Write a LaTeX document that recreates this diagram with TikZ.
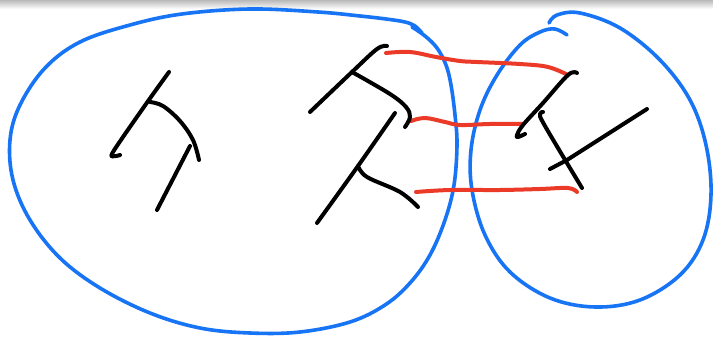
\documentclass[tikz,border=0pt]{standalone}
\usetikzlibrary{calc}
\definecolor{inkblue}{RGB}{22,116,245}
\definecolor{inkred}{RGB}{236,58,40}
\tikzset{
  blueink/.style={draw=inkblue,line width=3.6pt,line cap=round,line join=round},
  blackink/.style={draw=black,line width=4pt,line cap=round,line join=round},
  redink/.style={draw=inkred,line width=4pt,line cap=round,line join=round},
}
\begin{document}
\begin{tikzpicture}[x=1pt,y=-1pt]
\useasboundingbox (0,0) rectangle (713,337);
\fill[white] (0,0) rectangle (713,337);
\shade[top color=gray!55,bottom color=white] (0,0) rectangle (713,9);
% left blob
\draw[blueink] plot[smooth,tension=0.6] coordinates {(412,27) (425,36) (437,48) (446,65) (451,85) (455,115) (457,145) (454,185) (445,220) (430,255) (410,283) (385,305) (350,322) (300,332) (250,333) (200,328) (150,313) (100,288) (60,258) (30,220) (13,180) (10,140) (20,105) (45,68) (80,42) (130,25) (182,14) (250,9) (318,12) (360,16) (386,19) (405,22) (415,26) (422,33)};
% right blob
\draw[blueink] plot[smooth,tension=0.6] coordinates {(549,23) (557,15) (580,13) (620,28) (660,60) (690,100) (706,145) (711,195) (703,240) (680,275) (640,300) (595,307) (550,298) (510,272) (485,235) (472,190) (471,150) (480,110) (497,75) (520,45) (540,32) (555,29) (567,35)};
% red connectors
\draw[redink] plot[smooth,tension=0.6] coordinates {(386,53) (410,52) (436,57) (460,61) (477,62) (520,64) (548,67) (568,75)};
\draw[redink] plot[smooth,tension=0.6] coordinates {(411,121) (425,118) (445,122) (460,125) (490,124) (523,124)};
\draw[redink] plot[smooth,tension=0.6] coordinates {(416,192) (450,190) (500,190) (540,189) (568,188) (577,192)};
% left figure
\draw[blackink] plot[smooth,tension=0.5] coordinates {(169,72) (146,104) (113,152) (115,156) (120,155)};
\draw[blackink] plot[smooth,tension=0.6] coordinates {(150,102) (163,106) (180,121) (193,140) (199,160)};
\draw[blackink] (190,146) -- (157,210);
% middle figure
\draw[blackink] plot[smooth,tension=0.6] coordinates {(387,46) (377,49) (352,72) (310,112)};
\draw[blackink] plot[smooth,tension=0.6] coordinates {(352,72) (390,94) (406,107) (410,117) (405,127)};
\draw[blackink] plot[smooth,tension=0.5] coordinates {(395,113) (358,166) (317,223)};
\draw[blackink] plot[smooth,tension=0.6] coordinates {(358,166) (367,177) (400,192) (418,207)};
% right figure
\draw[blackink] plot[smooth,tension=0.6] coordinates {(577,73) (568,75) (543,103) (523,125) (517,135) (518,137) (525,134)};
\draw[blackink] plot[smooth,tension=0.6] coordinates {(543,112) (540,114) (545,126) (582,188)};
\draw[blackink] (647,109) -- (567,160) -- (550,169);
\end{tikzpicture}
\end{document}
